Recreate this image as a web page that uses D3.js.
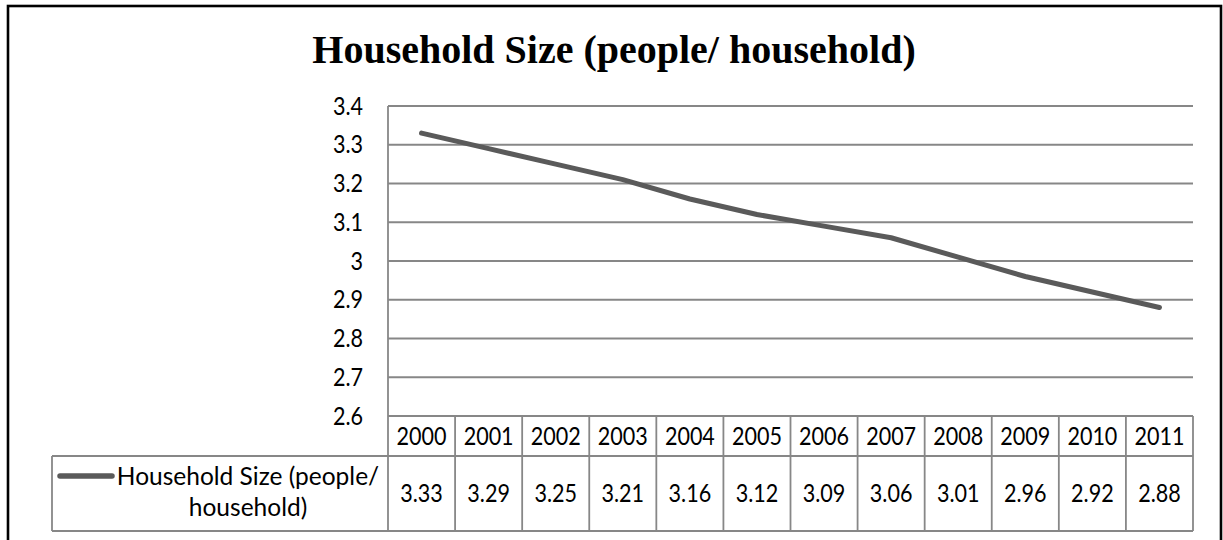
<!DOCTYPE html>
<html>
<head>
<meta charset="utf-8">
<script src="https://cdn.jsdelivr.net/npm/d3@7"></script>
<style>
  html, body { margin: 0; padding: 0; background: #fff; }
  svg { display: block; }
</style>
</head>
<body>
<svg id="chart" width="1223" height="540"></svg>
<script>
// Household size by year
const years = ["2000","2001","2002","2003","2004","2005","2006","2007","2008","2009","2010","2011"];
const householdSize = [3.33, 3.29, 3.25, 3.21, 3.16, 3.12, 3.09, 3.06, 3.01, 2.96, 2.92, 2.88];
const yTicks = [2.6, 2.7, 2.8, 2.9, 3.0, 3.1, 3.2, 3.3, 3.4];
const chartTitle = "Household Size (people/ household)";
const seriesName = ["Household Size (people/", "household)"];

const svg = d3.select("#chart");
const bodyFont = "Lato, 'Open Sans', sans-serif";
const bodySize = 24.5;
const digitSqueeze = 0.88;   // narrower figures, closer to Calibri proportions
const gridColor = "#878787";
const lineColor = "#5a5a5a";

const plot = { left: 388, right: 1193, top: 106, bottom: 416 };
const table = { yearBottom: 456, valueBottom: 531, legendLeft: 52 };

// Outer chart frame
svg.append("rect")
  .attr("x", 8).attr("y", 6)
  .attr("width", 1213).attr("height", 560)
  .attr("fill", "#fff")
  .attr("stroke", "#000").attr("stroke-width", 2.6);

// Title
svg.append("text")
  .attr("x", 614).attr("y", 63)
  .attr("text-anchor", "middle")
  .attr("font-family", "'Liberation Serif', 'Times New Roman', serif")
  .attr("font-weight", "bold")
  .attr("font-size", 40)
  .attr("fill", "#000")
  .text(chartTitle);

const x = d3.scaleBand().domain(years).range([plot.left, plot.right]);
const y = d3.scaleLinear().domain([2.6, 3.4]).range([plot.bottom, plot.top]);

// Horizontal gridlines
svg.append("g").selectAll("line")
  .data(yTicks)
  .join("line")
  .attr("x1", plot.left).attr("x2", plot.right)
  .attr("y1", d => y(d)).attr("y2", d => y(d))
  .attr("stroke", gridColor).attr("stroke-width", 1.8);

// Numeric label helper: places text at (cx, cy) with narrowed figures
function numberLabels(g, data, px, py, anchor, fmt) {
  g.selectAll("text")
    .data(data)
    .join("text")
    .attr("transform", (d, i) => `translate(${px(d, i)},${py(d, i)}) scale(${digitSqueeze},1)`)
    .attr("text-anchor", anchor)
    .attr("font-family", bodyFont)
    .attr("font-size", bodySize)
    .attr("fill", "#000")
    .text(fmt);
}

// Value axis labels
numberLabels(svg.append("g"), yTicks,
  d => plot.left - 25, d => y(d) + 8.5, "end",
  d => d3.format("")(+d.toFixed(1)));

// Data table: vertical cell borders through both rows
const edges = years.map(d => x(d)).concat([plot.right]);
svg.append("g").selectAll("line")
  .data(edges)
  .join("line")
  .attr("x1", d => d).attr("x2", d => d)
  .attr("y1", (d, i) => i === 0 ? plot.top : plot.bottom)
  .attr("y2", table.valueBottom)
  .attr("stroke", gridColor).attr("stroke-width", 1.8);

// Table horizontal borders
[table.yearBottom, table.valueBottom].forEach(yy => {
  svg.append("line")
    .attr("x1", table.legendLeft).attr("x2", plot.right)
    .attr("y1", yy).attr("y2", yy)
    .attr("stroke", gridColor).attr("stroke-width", 1.8);
});
svg.append("line")
  .attr("x1", table.legendLeft).attr("x2", table.legendLeft)
  .attr("y1", table.yearBottom).attr("y2", table.valueBottom)
  .attr("stroke", gridColor).attr("stroke-width", 1.8);

// Year labels
numberLabels(svg.append("g"), years,
  d => x(d) + x.bandwidth() / 2, () => 445, "middle", d => d);

// Value labels
numberLabels(svg.append("g"), householdSize,
  (d, i) => x(years[i]) + x.bandwidth() / 2, () => 502, "middle", d => d.toFixed(2));

// Legend key and series name
svg.append("line")
  .attr("x1", 60).attr("x2", 112)
  .attr("y1", 476).attr("y2", 476)
  .attr("stroke", lineColor).attr("stroke-width", 5.5)
  .attr("stroke-linecap", "round");
const legendText = svg.append("text")
  .attr("font-family", bodyFont)
  .attr("font-size", bodySize)
  .attr("fill", "#000")
  .attr("text-anchor", "middle");
legendText.selectAll("tspan")
  .data(seriesName)
  .join("tspan")
  .attr("x", 248)
  .attr("y", (d, i) => 485 + i * 31)
  .text(d => d);

// Series line
const line = d3.line()
  .x((d, i) => x(years[i]) + x.bandwidth() / 2)
  .y(d => y(d));
svg.append("path")
  .datum(householdSize)
  .attr("d", line)
  .attr("fill", "none")
  .attr("stroke", lineColor)
  .attr("stroke-width", 5)
  .attr("stroke-linejoin", "round")
  .attr("stroke-linecap", "round");
</script>
</body>
</html>
